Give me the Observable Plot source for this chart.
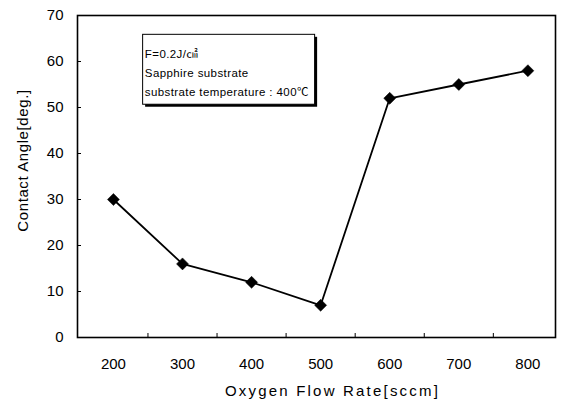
<!DOCTYPE html>
<html>
<head>
<meta charset="utf-8">
<script src="https://cdn.jsdelivr.net/npm/d3@7"></script>
<script src="https://cdn.jsdelivr.net/npm/@observablehq/plot@0.6"></script>
<style>
  html, body { margin: 0; padding: 0; background: #fff; }
  svg { font-family: "Liberation Sans", Arial, sans-serif; }
  .xlab text { letter-spacing: 2.2px; }
  .ylab text { letter-spacing: 0.6px; }
  .note text { letter-spacing: 0.4px; }
</style>
</head>
<body>
<div id="chart"></div>
<script>
// Data
const flowRates = [200, 300, 400, 500, 600, 700, 800];
const contactAngles = [30, 16, 12, 7, 52, 55, 58];
const xTickLabels = [200, 300, 400, 500, 600, 700, 800];
const xMinorTicks = [250, 350, 450, 550, 650, 750];
const yTickLabels = [0, 10, 20, 30, 40, 50, 60, 70];
const yInnerTicks = [10, 20, 30, 40, 50, 60];
const noteLines = ["F=0.2J/㎠", "Sapphire substrate", "substrate temperature : 400℃"];
const noteLineY = [61.6, 57.5, 53.3];
const noteBox = [{x1: 243, x2: 492, y1: 50.6, y2: 65.8}];
const xTitle = "Oxygen Flow Rate[sccm]";
const yTitle = "Contact Angle[deg.]";

const data = flowRates.map((x, i) => ({x, y: contactAngles[i]}));
const notes = noteLines.map((t, i) => ({t, y: noteLineY[i]}));

const chart = Plot.plot({
  width: 563,
  height: 403,
  marginLeft: 77,
  marginRight: 8,
  marginTop: 15,
  marginBottom: 66,
  style: {fontFamily: '"Liberation Sans", Arial, sans-serif', background: "#fff", color: "#000"},
  x: {domain: [148, 840]},
  y: {domain: [0, 70]},
  marks: [
    Plot.axisX({ticks: xTickLabels, tickSize: 0, tickPadding: 21, fontSize: 15, label: null, tickFormat: d => String(d)}),
    Plot.axisX({ticks: xMinorTicks, tickSize: -4, tickFormat: null, text: null, label: null, strokeWidth: 1}),
    Plot.axisY({ticks: yTickLabels, tickSize: 0, tickPadding: 14, fontSize: 15, label: null, tickFormat: d => String(d)}),
    Plot.axisY({ticks: yInnerTicks, tickSize: -4, text: null, label: null, strokeWidth: 1}),
    Plot.frame({stroke: "#000", strokeWidth: 1.6}),
    Plot.rect(noteBox, {x1: "x1", x2: "x2", y1: "y1", y2: "y2", fill: "#000", dx: 2.5, dy: 2.5}),
    Plot.rect(noteBox, {x1: "x1", x2: "x2", y1: "y1", y2: "y2", fill: "#fff", stroke: "#000", strokeWidth: 1}),
    Plot.text(notes, {x: noteBox[0].x1 + 2.5, y: "y", text: "t", textAnchor: "start", fontSize: 11.5, fill: "#000", className: "note", fontFamily: '"Liberation Sans", "Noto Sans CJK KR", sans-serif'}),
    Plot.line(data, {x: "x", y: "y", stroke: "#000", strokeWidth: 1.8}),
    Plot.dot(data, {x: "x", y: "y", symbol: "diamond2", r: 5.4, fill: "#000", stroke: "#000", strokeWidth: 0.5}),
    Plot.text([xTitle], {frameAnchor: "bottom", text: d => d, dy: 58, dx: 16, fontSize: 15, fill: "#000", className: "xlab"}),
    Plot.text([yTitle], {frameAnchor: "left", textAnchor: "middle", text: d => d, rotate: -90, dx: -54, dy: -16, fontSize: 15, fill: "#000", className: "ylab"})
  ]
});
document.getElementById("chart").appendChild(chart);
</script>
</body>
</html>
